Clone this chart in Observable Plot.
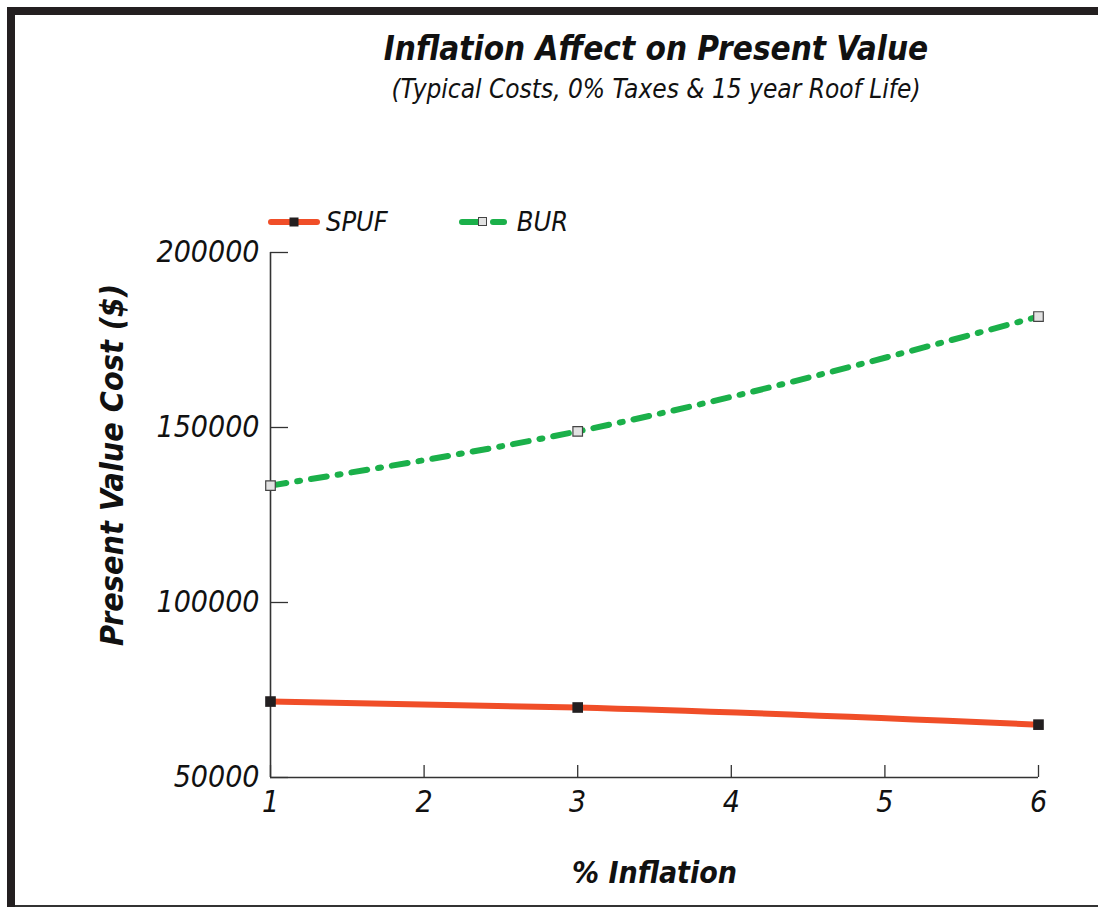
<!DOCTYPE html>
<html>
<head>
<meta charset="utf-8">
<script src="https://cdn.jsdelivr.net/npm/d3@7"></script>
<script src="https://cdn.jsdelivr.net/npm/@observablehq/plot@0.6"></script>
<style>
  html, body { margin: 0; padding: 0; background: #fff; }
  #page {
    position: relative; width: 1098px; height: 907px; overflow: hidden; background: #fff;
    font-family: "Liberation Sans Narrow", "DejaVu Sans Condensed", "Liberation Sans", sans-serif;
    font-style: italic; color: #111;
  }
  .bar { position: absolute; background: #231f20; }
  #title, #subtitle { position: absolute; left: 656px; transform: translateX(-50%); white-space: nowrap; line-height: 1; }
  #title { top: 32px; font-size: 33px; font-weight: bold; }
  #subtitle { top: 76px; font-size: 26px; }
  #legend { position: absolute; top: 206px; left: 266px; display: flex; align-items: center; }
  .item { display: flex; align-items: center; font-size: 27px; }
  .item svg { margin-right: 4px; }
  #chart { position: absolute; left: 0; top: 200px; }
</style>
</head>
<body>
<div id="page">
  <div class="bar" style="left:7px; top:7px; width:8px; height:900px;"></div>
  <div class="bar" style="left:7px; top:7px; width:1091px; height:8px;"></div>
  <div class="bar" style="left:15px; top:905px; width:1083px; height:2px; background:#333;"></div>
  <div id="title">Inflation Affect on Present Value</div>
  <div id="subtitle">(Typical Costs, 0% Taxes &amp; 15 year Roof Life)</div>
  <div id="legend"></div>
  <div id="chart"></div>
</div>
<script>
// Inflation rate (%) and present value cost ($) for each roofing system
const inflation = [1, 3, 6];
const spufCost = [71700, 70000, 65100];
const burCost = [133400, 148900, 181700];
const seriesNames = ["SPUF", "BUR"];
const xTicks = [1, 2, 3, 4, 5, 6];
const yTicks = [50000, 100000, 150000, 200000];
const xTitle = "% Inflation";
const yTitle = "Present Value Cost ($)";

const spufColor = "#f04e28";
const burColor = "#1bb04a";
const burDash = "16,11,3,11";

const spuf = inflation.map((x, i) => ({x, cost: spufCost[i]}));
const bur = inflation.map((x, i) => ({x, cost: burCost[i]}));

// Legend swatches
const legend = document.getElementById("legend");
const swatches = [
  `<svg width="56" height="16"><line x1="5" y1="8" x2="51" y2="8" stroke="${spufColor}" stroke-width="6" stroke-linecap="round"/><rect x="23.5" y="3.5" width="9" height="9" fill="#231f20"/></svg>`,
  `<svg width="56" height="16"><line x1="5" y1="8" x2="27" y2="8" stroke="${burColor}" stroke-width="6" stroke-linecap="round"/><line x1="36" y1="8" x2="47" y2="8" stroke="${burColor}" stroke-width="6" stroke-linecap="round"/><rect x="21.5" y="3.5" width="8" height="8" fill="#e2e2e2" stroke="#444" stroke-width="1"/></svg>`
];
seriesNames.forEach((name, i) => {
  const d = document.createElement("div");
  d.className = "item";
  d.style.marginRight = i === 0 ? "69px" : "0";
  d.innerHTML = swatches[i] + `<span>${name}</span>`;
  legend.appendChild(d);
});

const fmt = d3.format("d");
const chart = Plot.plot({
  width: 1098,
  height: 707,
  marginLeft: 270,
  marginRight: 60,
  marginTop: 52,
  marginBottom: 130,
  x: {domain: [1, 6]},
  y: {domain: [50000, 200000]},
  style: {
    fontFamily: '"Liberation Sans Narrow", "DejaVu Sans Condensed", "Liberation Sans", sans-serif',
    fontStyle: "italic",
    fontSize: "30px",
    color: "#111",
    background: "transparent",
    overflow: "visible"
  },
  marks: [
    Plot.axisX({ticks: xTicks, tickSize: -12, tickPadding: 25, tickFormat: fmt, label: null, stroke: "#333", strokeWidth: 1.3}),
    Plot.axisY({ticks: yTicks, tickSize: -18, tickPadding: 29, tickFormat: fmt, label: null, stroke: "#333", strokeWidth: 1.3}),
    Plot.ruleX([xTicks[0]], {stroke: "#333", strokeWidth: 1.6}),
    Plot.ruleY([yTicks[0]], {stroke: "#333", strokeWidth: 1.6}),
    Plot.line(spuf, {x: "x", y: "cost", stroke: spufColor, strokeWidth: 6, curve: "monotone-x"}),
    Plot.line(bur, {x: "x", y: "cost", stroke: burColor, strokeWidth: 6, strokeDasharray: burDash, strokeLinecap: "round", curve: "monotone-x"}),
    Plot.dot(spuf, {x: "x", y: "cost", symbol: "square", r: 6, fill: "#231f20"}),
    Plot.dot(bur, {x: "x", y: "cost", symbol: "square", r: 5.4, fill: "#e2e2e2", stroke: "#444", strokeWidth: 1.2}),
    Plot.text([xTitle], {frameAnchor: "bottom", dy: 96, fontSize: 30, fontWeight: "bold", lineAnchor: "middle", textAnchor: "middle"}),
    Plot.text([yTitle], {frameAnchor: "left", dx: -158, dy: -50, rotate: -90, fontSize: 32, fontWeight: "bold", lineAnchor: "middle", textAnchor: "middle"})
  ]
});
document.getElementById("chart").appendChild(chart);
</script>
</body>
</html>
